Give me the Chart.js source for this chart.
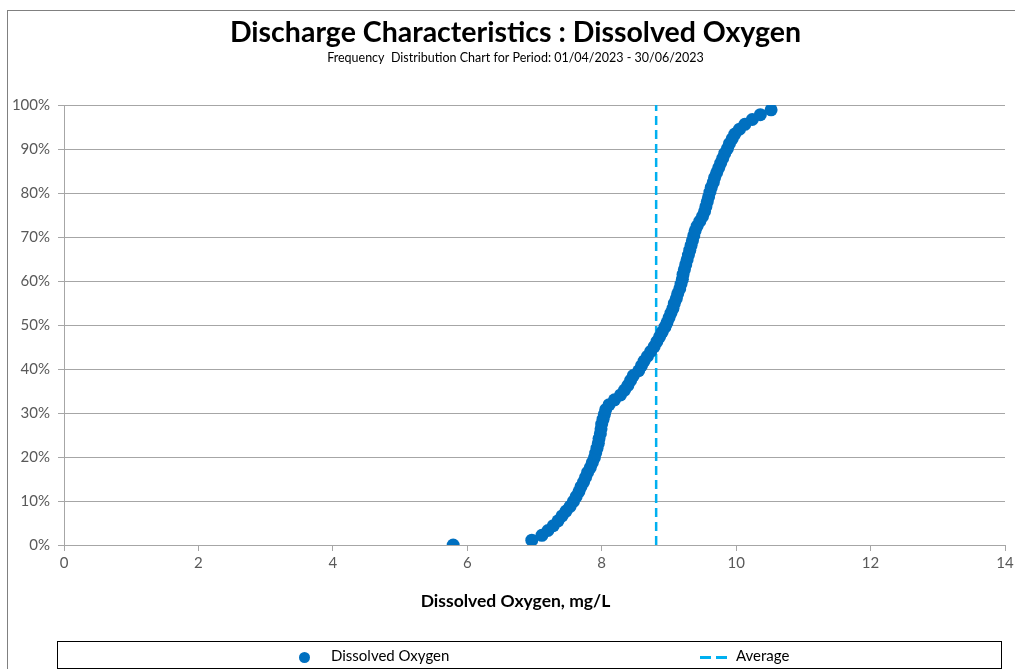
<!DOCTYPE html>
<html>
<head>
<meta charset="utf-8">
<script src="https://cdn.jsdelivr.net/npm/chart.js@4"></script>
<style>
  body { margin: 0; background: #fff; }
  #wrap { position: relative; width: 1015px; height: 669px; overflow: hidden; }
  #frame { position: absolute; left: 7px; top: 10px; width: 1100px; height: 700px;
           border-top: 1px solid #808080; border-left: 1px solid #808080; }
  canvas { position: absolute; left: 0; top: 0; }
  #legend { position: absolute; left: 57px; top: 641px; width: 943px; height: 26px;
            border: 1px solid #000; font: 15px Lato, sans-serif; color: #000; }
  .item { position: absolute; top: 0; height: 26px; line-height: 26px; white-space: nowrap; }
  .dot { display: inline-block; width: 11px; height: 11px; border-radius: 50%; vertical-align: middle; margin-right: 21px; }
  .dash { display: inline-block; width: 27px; height: 3px; vertical-align: middle; margin-right: 9px; }
</style>
</head>
<body>
<div id="wrap">
  <div id="frame"></div>
  <canvas id="chart" width="1031" height="669"></canvas>
  <div id="legend"></div>
</div>
<script>
// dissolved oxygen readings, sorted (mg/L)
let doValues = [
  5.79, 6.96, 7.11, 7.20, 7.28, 7.35, 7.41, 7.47, 7.53, 7.58,
  7.62, 7.66, 7.69, 7.73, 7.76, 7.79, 7.83, 7.86, 7.89, 7.91,
  7.93, 7.95, 7.96, 7.98, 7.99, 8.00, 8.02, 8.04, 8.06, 8.11,
  8.19, 8.28, 8.34, 8.39, 8.43, 8.47, 8.55, 8.59, 8.63, 8.68,
  8.73, 8.78, 8.82, 8.86, 8.90, 8.94, 8.97, 9.00, 9.03, 9.06,
  9.08, 9.11, 9.13, 9.16, 9.18, 9.20, 9.21, 9.23, 9.25, 9.27,
  9.29, 9.31, 9.33, 9.35, 9.37, 9.39, 9.42, 9.46, 9.50, 9.53,
  9.55, 9.57, 9.59, 9.61, 9.63, 9.66, 9.68, 9.71, 9.74, 9.77,
  9.80, 9.83, 9.87, 9.90, 9.94, 9.98, 10.05, 10.13, 10.24, 10.36,
  10.52
];
// cumulative frequency for each reading
let cumFreq = [
  0.000, 0.011, 0.022, 0.033, 0.044, 0.055, 0.066, 0.077, 0.088, 0.099,
  0.110, 0.121, 0.132, 0.143, 0.154, 0.165, 0.176, 0.187, 0.198, 0.209,
  0.220, 0.231, 0.242, 0.253, 0.264, 0.275, 0.286, 0.297, 0.308, 0.319,
  0.330, 0.341, 0.352, 0.363, 0.374, 0.385, 0.396, 0.407, 0.418, 0.429,
  0.440, 0.451, 0.462, 0.473, 0.484, 0.495, 0.505, 0.516, 0.527, 0.538,
  0.549, 0.560, 0.571, 0.582, 0.593, 0.604, 0.615, 0.626, 0.637, 0.648,
  0.659, 0.670, 0.681, 0.692, 0.703, 0.714, 0.725, 0.736, 0.747, 0.758,
  0.769, 0.780, 0.791, 0.802, 0.813, 0.824, 0.835, 0.846, 0.857, 0.868,
  0.879, 0.890, 0.901, 0.912, 0.923, 0.934, 0.945, 0.956, 0.967, 0.978,
  0.989
];
let averageDO = 8.81;
let averageSpan = [0, 1];

let xTicks = [0, 2, 4, 6, 8, 10, 12, 14];
let titleText = "Discharge Characteristics : Dissolved Oxygen";
let subtitleText = "Frequency  Distribution Chart for Period: 01/04/2023 - 30/06/2023";
let xTitle = "Dissolved Oxygen, mg/L";

const blue = "#0070C0";
const lightBlue = "#00B0F0";
const grey = "#595959";

let points = doValues.map((v, i) => ({x: v, y: cumFreq[i]}));
let avgLine = averageSpan.map(y => ({x: averageDO, y: y}));

// titles are centred on the whole chart, not the plot area
const headingsPlugin = {
    id: "headings",
    afterDraw(chart) {
        let ctx = chart.ctx;
        let cx = chart.width / 2;
        ctx.save();
        ctx.fillStyle = "#000";
        ctx.textAlign = "center";
        ctx.textBaseline = "middle";
        ctx.font = "bold 28.5px Lato";
        ctx.fillText(titleText, cx, 33);
        ctx.font = "12.5px Lato";
        ctx.fillText(subtitleText, cx, 58);
        ctx.font = "bold 17.5px Lato";
        ctx.fillText(xTitle, cx, chart.chartArea.bottom + 56);
        ctx.restore();
    }
};

let chart = new Chart(document.getElementById("chart"), {
    type: "scatter",
    data: {
        datasets: [{
            label: "Dissolved Oxygen",
            data: points,
            backgroundColor: blue,
            borderColor: blue,
            borderWidth: 0,
            pointRadius: 6.5,
            pointHoverRadius: 6.5
        }, {
            label: "Average",
            type: "line",
            data: avgLine,
            borderColor: lightBlue,
            borderWidth: 2.5,
            borderDash: [9, 5],
            pointRadius: 0,
            fill: false
        }]
    },
    plugins: [headingsPlugin],
    options: {
        responsive: false,
        animation: false,
        layout: {padding: {left: 0, right: 26, top: 105, bottom: 94}},
        plugins: {
            legend: {display: false},
            tooltip: {enabled: false}
        },
        scales: {
            x: {
                type: "linear",
                min: 0,
                max: 14,
                afterBuildTicks: s => { s.ticks = xTicks.map(v => ({value: v})); },
                grid: {drawOnChartArea: false, drawTicks: true, tickLength: 6, color: "#A6A6A6"},
                border: {color: "#A6A6A6"},
                ticks: {color: grey, font: {family: "Lato", size: 15}, padding: 3, maxRotation: 0}
            },
            y: {
                min: 0,
                max: 1,
                afterFit: s => { s.width = 64; },
                grid: {color: "#A6A6A6", tickLength: 6},
                border: {color: "#A6A6A6"},
                ticks: {
                    stepSize: 0.1,
                    color: grey,
                    font: {family: "Lato", size: 15},
                    padding: 8,
                    callback: v => Math.round(v * 100) + "%"
                }
            }
        }
    }
});

// legend box under the chart, built from the datasets
let legend = document.getElementById("legend");
let itemLeft = [241, 642];
chart.data.datasets.forEach((ds, i) => {
    let item = document.createElement("div");
    item.className = "item";
    item.style.left = itemLeft[i] + "px";
    let mark = document.createElement("span");
    if (ds.type === "line") {
        mark.className = "dash";
        let c = ds.borderColor;
        mark.style.background = "linear-gradient(to right, " + c + " 0 11px, transparent 11px 16px, " + c + " 16px 27px)";
    } else {
        mark.className = "dot";
        mark.style.background = ds.backgroundColor;
    }
    item.appendChild(mark);
    item.appendChild(document.createTextNode(ds.label));
    legend.appendChild(item);
});
</script>
</body>
</html>
